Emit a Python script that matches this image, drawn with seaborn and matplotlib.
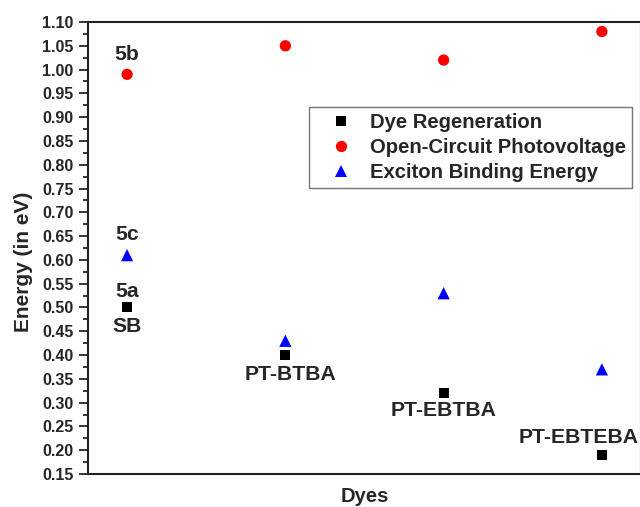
import matplotlib
matplotlib.use("Agg")
import matplotlib.pyplot as plt
from matplotlib.ticker import MultipleLocator, NullLocator
import seaborn as sns
import pandas as pd

# ---- data ----
dyes = ["SB", "PT-BTBA", "PT-EBTBA", "PT-EBTEBA"]
dye_regeneration = [0.50, 0.40, 0.32, 0.19]
open_circuit = [0.99, 1.05, 1.02, 1.08]
exciton_binding = [0.61, 0.43, 0.53, 0.37]
series_names = ["Dye Regeneration", "Open-Circuit Photovoltage", "Exciton Binding Energy"]
y_ticks = [0.15, 0.20, 0.25, 0.30, 0.35, 0.40, 0.45, 0.50, 0.55, 0.60,
           0.65, 0.70, 0.75, 0.80, 0.85, 0.90, 0.95, 1.00, 1.05, 1.10]

x_pos = list(range(1, len(dyes) + 1))
rows = []
for name, vals in zip(series_names, [dye_regeneration, open_circuit, exciton_binding]):
    for xp, v in zip(x_pos, vals):
        rows.append({"x": xp, "Energy": v, "Series": name})
df = pd.DataFrame(rows)

sns.set_style("ticks")
plt.rcParams["font.family"] = ["Liberation Sans", "DejaVu Sans"]
plt.rcParams["font.weight"] = "bold"

fig = plt.figure(figsize=(6.4, 5.07), dpi=100)
ax = fig.add_axes([88 / 640, 33 / 507, 553 / 640, 452 / 507])

palette = {series_names[0]: "#000000", series_names[1]: "#ff0000", series_names[2]: "#0000ff"}
markers = {series_names[0]: "s", series_names[1]: "o", series_names[2]: "^"}
sizes = {series_names[0]: 52, series_names[1]: 66, series_names[2]: 78}

sns.scatterplot(data=df, x="x", y="Energy", hue="Series", style="Series",
                size="Series", sizes=sizes, palette=palette, markers=markers,
                linewidth=0, ax=ax, legend=True)

ax.set_xlim(0.753, 4.247)
ax.set_ylim(0.15, 1.10)
ax.set_yticks(y_ticks)
ax.set_yticklabels([f"{t:.2f}" for t in y_ticks])
ax.yaxis.set_minor_locator(MultipleLocator(0.025))
ax.xaxis.set_major_locator(NullLocator())
ax.xaxis.set_minor_locator(NullLocator())
ax.tick_params(axis="y", which="major", length=6.5, width=1.3, labelsize=11.6, pad=4, direction="out")
ax.tick_params(axis="y", which="minor", length=3.5, width=1.3, direction="out")
for lab in ax.get_yticklabels():
    lab.set_fontweight("bold")
for sp in ax.spines.values():
    sp.set_visible(True)
    sp.set_linewidth(1.5)
    sp.set_color("#222222")

ax.set_xlabel("Dyes", fontsize=14.5, fontweight="bold")
ax.set_ylabel("Energy (in eV)", fontsize=15, fontweight="bold")
ax.xaxis.set_label_coords(0.5, -0.028)
ax.yaxis.set_label_coords(-0.10, 0.47)

# annotations
ann_text = ["5b", "5c", "5a", "SB", "PT-BTBA", "PT-EBTBA", "PT-EBTEBA"]
ann_x = [1, 1, 1, 1, 2, 3, 4]
ann_y = [open_circuit[0], exciton_binding[0], dye_regeneration[0], dye_regeneration[0],
         dye_regeneration[1], dye_regeneration[2], dye_regeneration[3]]
ann_off = [(0, 14), (0, 14.5), (0, 11.5), (0, -14), (3.6, -14), (0, -12.5), (-17, 12.5)]
for t, xx, yy, off in zip(ann_text, ann_x, ann_y, ann_off):
    ax.annotate(t, (xx, yy), xytext=off, textcoords="offset points",
                ha="center", va="center", fontsize=15.2, fontweight="bold")

handles, labels = ax.get_legend_handles_labels()
leg = ax.legend(handles, labels, loc="upper left", bbox_to_anchor=(0.40, 0.812),
                frameon=True, fancybox=False, fontsize=14.6, borderpad=0.3,
                handlelength=2.5, handletextpad=0.2, labelspacing=0.3,
                borderaxespad=0, markerscale=1.0)
leg.get_frame().set_edgecolor("#555555")
leg.get_frame().set_linewidth(1.0)
for txt in leg.get_texts():
    txt.set_fontweight("bold")

fig.savefig("out.png", dpi=100)
